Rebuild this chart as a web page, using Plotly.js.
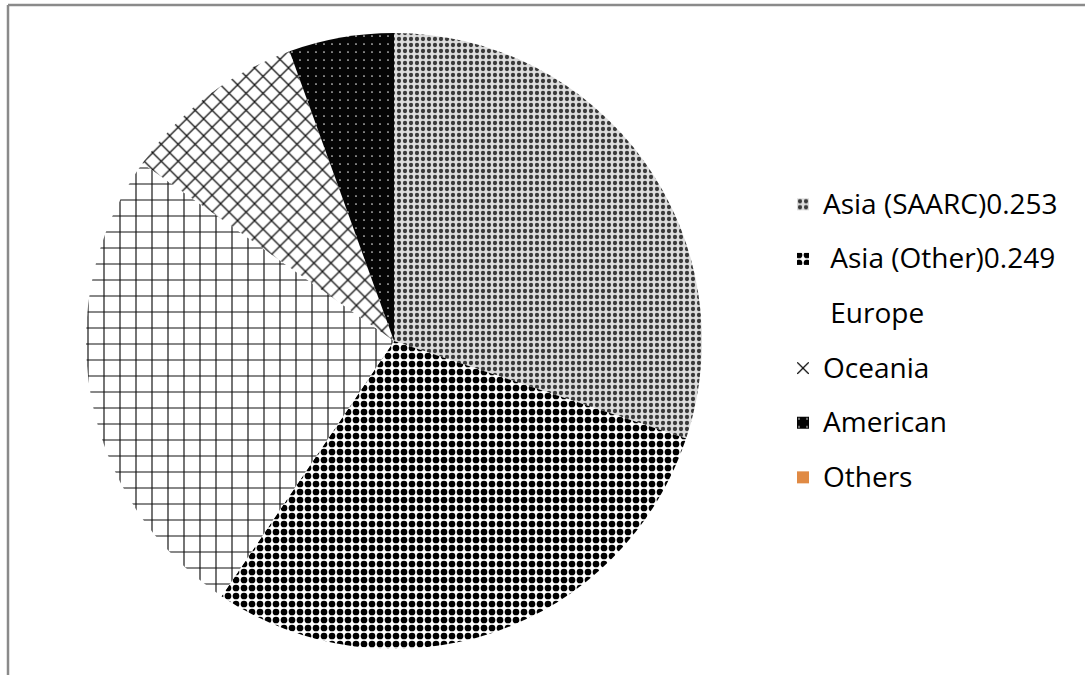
<!DOCTYPE html>
<html>
<head>
<meta charset="utf-8">
<script src="https://cdn.plot.ly/plotly-3.0.1.min.js"></script>
<style>
  html, body { margin: 0; padding: 0; background: #ffffff; }
  #chart { width: 1085px; height: 675px; }
</style>
</head>
<body>
<div id="chart"></div>
<script>
// ---- data ----
const regions = ["Asia (SAARC)0.253", "\u00A0Asia (Other)0.249", "\u00A0Europe", "Oceania", "American", "Others"];
const shares = [30.1, 29.3, 25.3, 9.7, 5.5, 0];

// ---- styles ----
const patternShapes = [".", ".", "+", "x", ".", ""];
const patternBg = ["#dcdcdc", "#ffffff", "#ffffff", "#ffffff", "#050505", "#E08A44"];
const patternFg = ["#3a3a3a", "#000000", "#111111", "#111111", "#e0e0e0", "#E08A44"];
const patternSize = [6, 8, 16, 12, 8, 8];
const patternSolidity = [0.4, 0.55, 0.14, 0.2, 0.035, 0.3];

const W = 1085, H = 675;
const cx = 394, cy = 341, R = 308;

const legendLabels = regions.map(r => '<span style="font-size:28px;baseline-shift:6px">' + r + '</span>');

const trace = {
  type: "pie",
  labels: legendLabels,
  values: shares,
  sort: false,
  direction: "clockwise",
  rotation: 0,
  textinfo: "none",
  hoverinfo: "none",
  domain: {
    x: [(cx - R) / W, (cx + R) / W],
    y: [1 - (cy + R) / H, 1 - (cy - R) / H]
  },
  marker: {
    colors: patternBg,
    line: { width: 0 },
    pattern: {
      shape: patternShapes,
      bgcolor: patternBg,
      fgcolor: patternFg,
      size: patternSize,
      solidity: patternSolidity,
      fillmode: "replace"
    }
  }
};

const layout = {
  width: W,
  height: H,
  margin: { l: 0, r: 0, t: 0, b: 0 },
  paper_bgcolor: "#ffffff",
  plot_bgcolor: "#ffffff",
  showlegend: true,
  font: { family: "Open Sans, Noto Sans, sans-serif", color: "#000000" },
  legend: {
    x: 783 / W,
    xanchor: "left",
    y: 1 - 172 / H,
    yanchor: "top",
    font: { size: 39.7, family: "Open Sans, Noto Sans, sans-serif", color: "#000000" },
    bgcolor: "rgba(0,0,0,0)",
    borderwidth: 0,
    itemclick: false,
    itemdoubleclick: false
  },
  shapes: [
    { type: "line", xref: "paper", yref: "paper", x0: 8 / W, x1: 1, y0: 1 - 5 / H, y1: 1 - 5 / H,
      line: { color: "#8a8a8a", width: 2.5 } },
    { type: "line", xref: "paper", yref: "paper", x0: 8 / W, x1: 8 / W, y0: 1 - 5 / H, y1: 0,
      line: { color: "#8a8a8a", width: 2.5 } }
  ]
};

Plotly.newPlot("chart", [trace], layout, { displayModeBar: false, staticPlot: true });
</script>
</body>
</html>
